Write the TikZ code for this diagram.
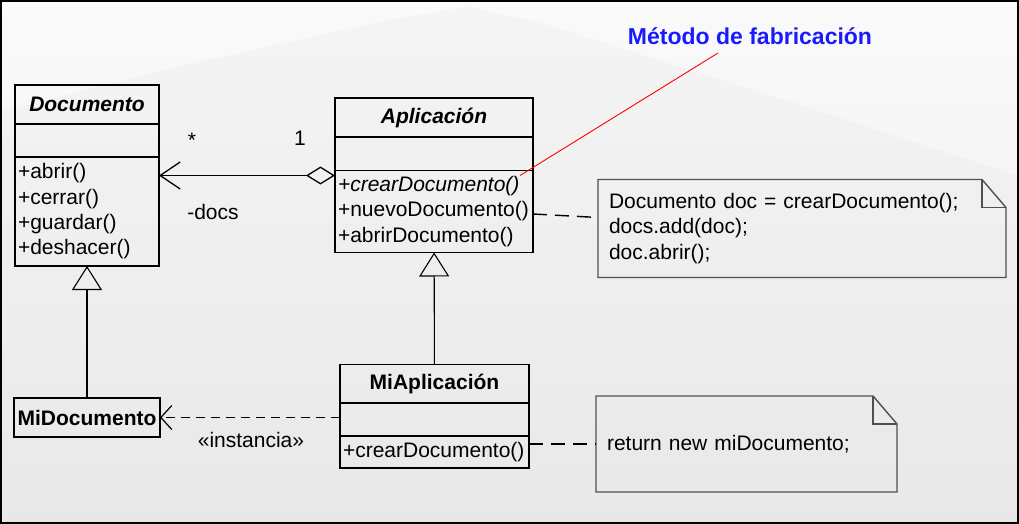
\documentclass[tikz,border=0pt]{standalone}
\usepackage{fontspec}
\setmainfont{Liberation Sans}
\usepackage{tikz}
\usetikzlibrary{arrows.meta,positioning}

\definecolor{fabblue}{RGB}{26,26,255}
\definecolor{notegray}{RGB}{80,80,80}

\tikzset{
    clsbox/.style={draw=black, line width=1.7pt, outer sep=0pt, inner sep=0pt, anchor=north west},
    abstitle/.style={clsbox, font=\fontsize{21}{25.3}\selectfont\bfseries\itshape},
    conctitle/.style={clsbox, font=\fontsize{21}{25.3}\selectfont\bfseries},
    opsbox/.style={clsbox, align=left, inner xsep=3pt},
    notebox/.style={anchor=north west, align=left, inner xsep=11pt, outer sep=0pt},
    noteline/.style={draw=notegray, line width=1.4pt},
    notelink/.style={line width=1.4pt, dash pattern=on 14pt off 8pt},
    inherit/.style={line width=1.1pt, -{Triangle[open, length=24pt, width=30pt]}},
}

\begin{document}
\begin{tikzpicture}[x=1pt, y=-1pt, font=\fontsize{21}{25.3}\selectfont]
    \useasboundingbox (0,0) rectangle (1019,524);
    \fill[top color=white!98!black, bottom color=black!7] (0,0) rectangle (1019,524);
    \fill[black, opacity=0.02] (0,112) -- (180,66) -- (380,22) -- (468,6) -- (545,24) -- (760,92) -- (1019,176) -- (1019,524) -- (0,524) -- cycle;

    \node[abstitle, minimum width=144pt, minimum height=39pt] (doc) at (15,85) {Documento};
    \node[clsbox, minimum width=144pt, minimum height=33pt, below=0pt of doc] (doc-attr) {};
    \node[opsbox, text width=138pt, minimum height=109pt, below=0pt of doc-attr] (doc-ops) {+abrir()\\+cerrar()\\+guardar()\\+deshacer()};

    \node[abstitle, minimum width=198pt, minimum height=39pt] (app) at (335,98) {Aplicación};
    \node[clsbox, minimum width=198pt, minimum height=33.5pt, below=0pt of app] (app-attr) {};
    \node[opsbox, text width=192pt, minimum height=82pt, below=0pt of app-attr] (app-ops) {\textit{+crearDocumento()}\\+nuevoDocumento()\\+abrirDocumento()};

    \node[conctitle, minimum width=146pt, minimum height=39pt] (mdoc) at (14,398) {MiDocumento};

    \node[conctitle, minimum width=189pt, minimum height=38.5pt] (mapp) at (340,364.5) {MiAplicación};
    \node[clsbox, minimum width=189pt, minimum height=33pt, below=0pt of mapp] (mapp-attr) {};
    \node[opsbox, text width=183pt, minimum height=32pt, below=0pt of mapp-attr] (mapp-ops) {+crearDocumento()};

    \node[notebox, text width=386pt, minimum height=98pt] (note-nuevo) at (598,179.5) {Documento doc = crearDocumento();\\docs.add(doc);\\doc.abrir();};
    \draw[noteline] (note-nuevo.north west) -- ([xshift=-24pt]note-nuevo.north east) -- ([yshift=-28pt]note-nuevo.north east) -- (note-nuevo.south east) -- (note-nuevo.south west) -- cycle;
    \draw[noteline] ([xshift=-24pt]note-nuevo.north east) |- ([yshift=-28pt]note-nuevo.north east);

    \node[notebox, text width=279pt, minimum height=96pt] (note-ret) at (596,396) {return new miDocumento;};
    \draw[noteline] (note-ret.north west) -- ([xshift=-24pt]note-ret.north east) -- ([yshift=-28pt]note-ret.north east) -- (note-ret.south east) -- (note-ret.south west) -- cycle;
    \draw[noteline] ([xshift=-24pt]note-ret.north east) |- ([yshift=-28pt]note-ret.north east);

    \node[font=\bfseries\fontsize{23}{27}\selectfont, text=fabblue] (metodo) at (750,36) {Método de fabricación};
    \coordinate (crear) at (520,175.5);
    \coordinate (fab) at (718,53);
    \draw[red, line width=0.9pt] (crear) -- (fab);

    \coordinate (agg) at ([yshift=-5pt]app-ops.north west);
    \draw[line width=1.3pt, {Diamond[open, length=29pt, width=18pt]}-{Straight Barb[length=20pt, width=27pt]}] (agg) -- (agg -| doc-ops.east);
    \node (mult-doc) at (192,140) {*};
    \node (mult-app) at (300,138) {1};
    \node (rol-docs) at (213,212) {-docs};

    \draw[inherit] (mdoc) -- (doc-ops);
    \draw[inherit] (mapp) -- (app-ops);

    \draw[line width=1.2pt, dash pattern=on 9pt off 6pt, -{Straight Barb[length=11pt, width=24pt]}] ([yshift=2pt]mapp-attr.west) -- ([yshift=2pt]mapp-attr.west -| mdoc.east);
    \node (instancia) at (251,440) {«instancia»};

    \draw[notelink] ([yshift=-2.5pt]app-ops.east) -- ([yshift=11pt]note-nuevo.west);
    \draw[notelink] ([yshift=8pt]mapp-ops.east) -- (note-ret.west);

    \draw[line width=2pt] (1,1) rectangle (1018,523);
\end{tikzpicture}
\end{document}
